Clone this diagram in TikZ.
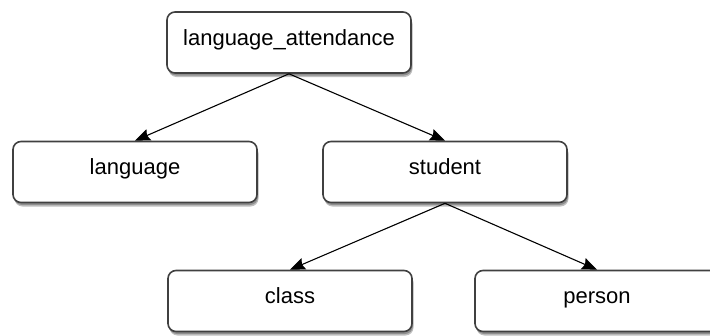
\documentclass[tikz,border=0pt]{standalone}
\usepackage{fontspec}
\setmainfont{Liberation Sans}
\usetikzlibrary{arrows.meta,shadows}
\tikzset{pin/.style={-{Stealth[length=15pt,width=12pt,inset=2pt]}, line width=1.1pt},
  entity/.style={draw=black!75, line width=1.6pt, rounded corners=8pt, fill=white,
    minimum width=244pt, minimum height=61pt, font=\fontsize{22}{26}\selectfont,
    text height=1.55ex, text depth=0.45ex,
    drop shadow={shadow xshift=1.5pt, shadow yshift=-4pt, opacity=0.25, fill=black},
    drop shadow={shadow xshift=1pt, shadow yshift=-2.5pt, opacity=0.25, fill=black}}}

\begin{document}
\begin{tikzpicture}[x=1pt, y=-1pt]
  \useasboundingbox (0,0) rectangle (710,335);
  % tables
  \node[entity] (att) at (289,42.5) {language\_attendance};
  \node[entity] (lang) at (135,172) {language};
  \node[entity] (stud) at (445,172) {student};
  \node[entity] (cls) at (290,301) {class};
  \node[entity] (pers) at (597,301) {person};
  % links
  \draw[pin] (att.south) -- (lang.north);
  \draw[pin] (att.south) -- (stud.north);
  \draw[pin] (stud.south) -- (cls.north);
  \draw[pin] (stud.south) -- (pers.north);
\end{tikzpicture}
\end{document}
